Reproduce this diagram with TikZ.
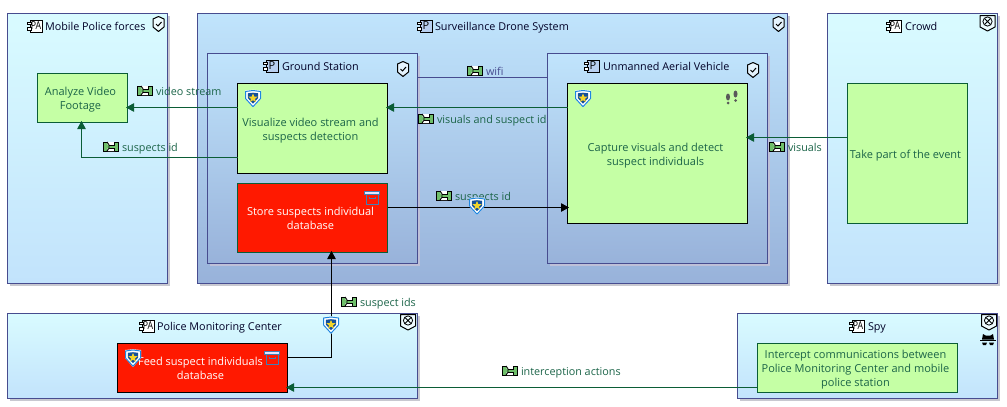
\documentclass[tikz,border=0pt]{standalone}
\usepackage{fontspec}
\setmainfont{Open Sans}
\usetikzlibrary{arrows.meta,calc}
\definecolor{bd}{HTML}{474C8F}
\definecolor{gr}{HTML}{0B5D36}
\definecolor{fg}{HTML}{C5FFA5}
\definecolor{rd}{HTML}{FF1900}
\definecolor{ltop}{HTML}{D9FBFF}
\definecolor{lbot}{HTML}{C2E3FC}
\definecolor{dtop}{HTML}{C0E4FC}
\definecolor{dbot}{HTML}{98B2DA}
\definecolor{txg}{HTML}{1B6448}
\definecolor{shad}{HTML}{C8C8D0}
\definecolor{pfill}{HTML}{B8CFF0}
\definecolor{bxb}{HTML}{3F7FB5}
\definecolor{xg}{HTML}{6FBF6A}
\definecolor{shb}{HTML}{1E86E0}
\definecolor{shd}{HTML}{14509A}
\definecolor{sty}{HTML}{F2D52A}
\newcommand{\ft}[1]{\hspace*{-4pt}\raisebox{-2pt}[\height][\depth]{\renewcommand{\arraystretch}{1.083}\begin{tabular}{@{}c@{}}#1\end{tabular}}}
\newcommand{\compicon}[3]{\pic at (#1) {comp=#2}; \node[cicon] (#3) at ($(#1)+(2,0)$) {\scalebox{.8}[1]{\ifx#2w PA\else P\fi}};}
\tikzset{
 x=1pt,y=-1pt,
 every node/.style={font=\fontsize{11}{13}\selectfont,inner sep=0pt,outer sep=0pt,align=center},
 lbox/.style={draw=bd,line width=1pt,top color=ltop,bottom color=lbot,anchor=north west},
 dbox/.style={draw=bd,line width=1pt,top color=dtop,bottom color=dbot,anchor=north west},
 fbox/.style={draw=gr,line width=1pt,fill=fg,text=txg,anchor=north west},
 kbox/.style={draw=black,line width=1pt,fill=fg,text=txg,anchor=north west},
 rbox/.style={draw=gr,line width=1pt,fill=rd,text=white,anchor=north west},
 title/.style={anchor=base west,text=black!85!blue,font=\fontsize{10.8}{13}\selectfont},
 xlabel/.style={anchor=base west,text=txg,font=\fontsize{10.8}{13}\selectfont},
 cicon/.style={font=\fontsize{11}{11}\selectfont},
 flow/.style={draw=gr,line width=1pt,shorten >=-1.5pt,-{Triangle[length=8pt,width=8.5pt]}},
 flowk/.style={draw=black,line width=1pt,shorten >=-1.5pt,-{Triangle[length=8pt,width=8.5pt]}},
 link/.style={draw=bd,line width=1pt},
 pics/comp/.style={code={
   \draw[line width=.9pt,fill=#1] (-4,-6) rectangle (8,6.5);
   \draw[line width=.9pt,fill=white] (-7,-4) rectangle (-2.5,-1.5) (-7,1.5) rectangle (-2.5,4);
 }},
 pics/chk/.style={code={
   \draw[line width=1pt,fill=white,fill opacity=.6,line join=round] (0,-7.5)--(5.5,-5)--(5.5,3)--(0,7.5)--(-5.5,3)--(-5.5,-5)--cycle;
   \draw[line width=1pt] (-2.5,0)--(-.5,2)--(3,-2);
 }},
 pics/xsh/.style={code={
   \draw[line width=1pt,fill=white,fill opacity=.6,line join=round] (-7.5,-7.5)--(7.5,-7.5)--(7.5,4)--(0,8)--(-7.5,4)--cycle;
   \draw[line width=.8pt] (0,-1.5) circle (4.6);
   \draw[line width=.8pt] (-3,-4.5)--(3,1.5) (3,-4.5)--(-3,1.5);
 }},
 pics/star/.style={code={
   \fill[white] (-8,-8)--(0,-8.8)--(8,-8)--(8,0)--(0,9)--(-8,0)--cycle;
   \draw[line width=1pt,draw=shb,line join=round] (-7.5,-7)--(0,-8)--(7.5,-7)--(7.5,0)--(0,8.2)--(-7.5,0)--cycle;
   \fill[shd] (-5.2,-5.2)--(0,-5.8)--(5.2,-5.2)--(5.2,-.5)--(0,5.2)--(-5.2,-.5)--cycle;
   \fill[sty] (0,-5)--(1.3,-2)--(4.6,-1.8)--(2,.4)--(2.9,3.5)--(0,1.7)--(-2.9,3.5)--(-2,.4)--(-4.6,-1.8)--(-1.3,-2)--cycle;
 }},
 pics/xch/.style={code={
   \draw[line width=.9pt,fill=xg] (-7.5,-4.5) rectangle (7.5,4.5);
   \fill[white] (-3.5,-4.5)--(3.5,-4.5)--(3.5,-1.5)--(-3.5,-1.5)--cycle (-3.5,1.5)--(3.5,1.5)--(3.5,4.5)--(-3.5,4.5)--cycle;
   \draw[line width=.9pt] (-4,-4.5)--(-2,-1.8)--(-2,1.8)--(-4,4.5);
   \draw[line width=.9pt] (3,-4.5)--(3,-1.5)--(-2,-1.5) (3,4.5)--(3,1.5)--(-2,1.5);
 }},
 pics/boxi/.style={code={
   \draw[line width=1pt,draw=bxb,fill=blue!10!white] (-7.5,-6.5) rectangle (7.5,-3.5);
   \draw[line width=1pt,draw=bxb] (-6,-3.5) -- (-6,6.5) -- (6,6.5) -- (6,-3.5);
   \draw[line width=.8pt,draw=bxb] (-3,-1.5)--(-3,.5)--(3,.5)--(3,-1.5);
 }},
 pics/feet/.style={code={
   \fill[black!65] (-4,-1) ellipse (2 and 3.5);\fill[black!65] (-4,5) circle (1.5);
   \fill[black!65] (3.5,-4) ellipse (2 and 3.5);\fill[black!65] (3.5,2.5) circle (1.5);
 }},
 pics/hat/.style={code={
   \fill[black] (-5,-5)--(-2.5,-3.5)--(2.5,-3.5)--(5,-5)--(6,.5)--(-6,.5)--cycle;
   \fill[black] (-8,.8) rectangle (8,2.2);
   \fill[black] (-6,3.5) -- (-1,3.5) -- (-2,6)--(-5,6)--cycle (6,3.5)--(1,3.5)--(2,6)--(5,6)--cycle;
 }},
}
\begin{document}
\begin{tikzpicture}
\useasboundingbox (0,0) rectangle (1007,407);
% shadows
\foreach \a/\b/\c/\d in {7.5/13.5/167.5/283.5,197.5/13.5/787.5/283.5,827.5/13.5/997.5/283.5,7.5/313.5/417.5/398.5,737.5/313.5/997.5/398.5}
  \fill[shad] (\a+2.5,\b+2.5) rectangle (\c+2.5,\d+2.5);
% containers
\node[lbox,minimum width=160pt,minimum height=270pt] (mob) at (7.5,13.5) {};
\node[dbox,minimum width=590pt,minimum height=270pt] (sds) at (197.5,13.5) {};
\node[lbox,minimum width=170pt,minimum height=270pt] (crd) at (827.5,13.5) {};
\node[lbox,minimum width=410pt,minimum height=85pt] (pmc) at (7.5,313.5) {};
\node[lbox,minimum width=260pt,minimum height=85pt] (spy) at (737.5,313.5) {};
\fill[bd!35] (210,56) rectangle (420,266);
\fill[bd!35] (550,56) rectangle (770,266);
\node[dbox,minimum width=210pt,minimum height=210pt] (gs) at (207.5,53.5) {};
\node[dbox,minimum width=220pt,minimum height=210pt] (uav) at (547.5,53.5) {};
% functions
\node[fbox,minimum width=90pt,minimum height=49pt] (ana) at (37.5,73.5) {\ft{Analyze Video\\Footage}};
\node[kbox,minimum width=150pt,minimum height=90pt] (vis) at (237.5,83.5) {\ft{Visualize video stream and\\suspects detection}};
\node[rbox,minimum width=150pt,minimum height=69pt] (sto) at (237.5,183.5) {\ft{Store suspects individual\\database}};
\node[kbox,minimum width=180pt,minimum height=140pt] (cap) at (567.5,83.5) {\ft{Capture visuals and detect\\suspect individuals}};
\node[fbox,minimum width=120pt,minimum height=140pt] (tak) at (847.5,83.5) {\ft{Take part of the event}};
\node[rbox,draw=black,minimum width=170pt,minimum height=49pt] (fee) at (117.5,343.5) {\ft{Feed suspect individuals\\database}};
\node[fbox,minimum width=200pt,minimum height=49pt] (int) at (757.5,343.5) {\ft{Intercept communications between\\Police Monitoring Center and mobile\\police station}};
% connectors
\draw[flow] (vis.west |- 0,107.5) -- (ana.east |- 0,107.5);
\draw[flow] (vis.west |- 0,157.5) -| (ana.south -| 81.5,0);
\draw[flow] (cap.west |- 0,107.5) -- (vis.east |- 0,107.5);
\draw[link] (gs.east |- 0,77.5) -- (uav.west |- 0,77.5);
\draw[flowk] (sto.east |- 0,207.5) -- (cap.west |- 0,207.5);
\draw[flowk] (fee.east |- 0,357.5) -| (sto.south -| 331.5,0);
\draw[flow] (tak.west |- 0,137.5) -- (cap.east |- 0,137.5);
\draw[flow] (int.west |- 0,387.5) -- (fee.east |- 0,387.5);
% titles
\node[title] (t1) at (45,30) {Mobile Police forces};
\node[title] (t2) at (435,30) {Surveillance Drone System};
\node[title] (t3) at (282,70) {Ground Station};
\node[title] (t4) at (603,70) {Unmanned Aerial Vehicle};
\node[title] (t5) at (905,30) {Crowd};
\node[title] (t6) at (157,330) {Police Monitoring Center};
\node[title] (t7) at (868,330) {Spy};
\pic at (34,26) {comp=white}; \node[cicon] (i1) at (36,26) {\scalebox{.8}[1]{PA}};
\pic at (424,26) {comp=pfill}; \node[cicon] (i2) at (426,26) {P};
\pic at (270,66) {comp=pfill}; \node[cicon] (i3) at (272,66) {P};
\pic at (591,66) {comp=pfill}; \node[cicon] (i4) at (593,66) {P};
\pic at (893,26) {comp=white}; \node[cicon] (i5) at (895,26) {\scalebox{.8}[1]{PA}};
\pic at (146,326) {comp=white}; \node[cicon] (i6) at (148,326) {\scalebox{.8}[1]{PA}};
\pic at (856,326) {comp=white}; \node[cicon] (i7) at (858,326) {\scalebox{.8}[1]{PA}};
% labels
\pic at (145,90.5) {xch}; \node[xlabel] (l1) at (156,95) {video stream};
\pic at (111,146.5) {xch}; \node[xlabel] (l2) at (122,151) {suspects id};
\pic at (475,70.5) {xch}; \node[xlabel,text=bd] (l3) at (486,75) {wifi};
\pic at (426,118.5) {xch}; \node[xlabel] (l4) at (437,123) {visuals and suspect id};
\pic at (777,146.5) {xch}; \node[xlabel] (l5) at (788,151) {visuals};
\pic at (444,195.5) {xch}; \node[xlabel] (l6) at (455,200) {suspects id};
\pic at (349,301.5) {xch}; \node[xlabel] (l7) at (360,306) {suspect ids};
\pic at (510,370.5) {xch}; \node[xlabel] (l8) at (521,375) {interception actions};
% badges
\pic at (158.5,24) {chk}; \pic at (778.5,24) {chk}; \pic at (403,69) {chk}; \pic at (753,70) {chk};
\pic at (987.5,23) {xsh}; \pic at (408,322) {xsh}; \pic at (989,322) {xsh};
\pic at (253,98.5) {star}; \pic at (583,98.5) {star}; \pic at (477,206) {star}; \pic at (331,325) {star}; \pic at (133,358) {star};
\pic at (372,198) {boxi}; \pic at (272,358) {boxi};
\pic at (732,98) {feet}; \pic at (988,339) {hat};
\end{tikzpicture}
\end{document}
